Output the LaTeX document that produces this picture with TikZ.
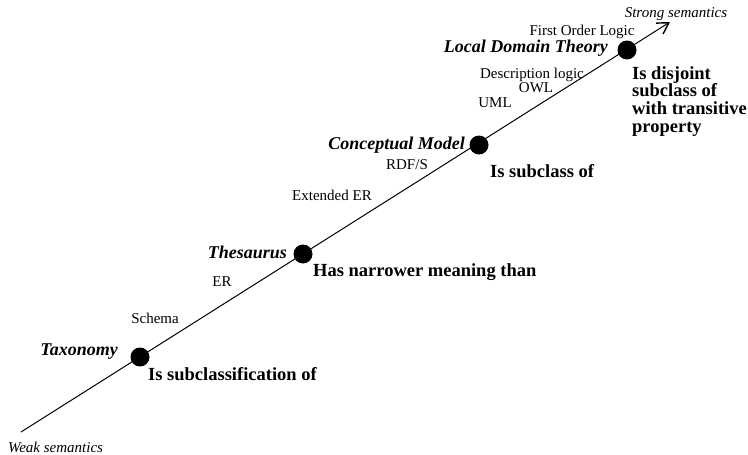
\documentclass[tikz,border=0pt]{standalone}
\usepackage{fontspec}
\setmainfont{Liberation Serif}
\usetikzlibrary{arrows.meta}
\begin{document}
\begin{tikzpicture}[x=1pt,y=-1pt,
  dot/.style={circle,fill=black,inner sep=0pt,minimum size=19pt},
  tech/.style={font=\fontsize{15}{17}\selectfont,inner sep=0pt},
  level/.style={font=\fontsize{18}{20}\selectfont\bfseries\itshape,inner sep=0pt},
  relation/.style={font=\fontsize{18.5}{17.7}\selectfont\bfseries,inner sep=0pt},
  pole/.style={font=\fontsize{15}{17}\selectfont\itshape,inner sep=0pt}]
\useasboundingbox (0,0) rectangle (748,455);

% semantic axis
\coordinate (weak) at (21,432);
\coordinate (strong) at (670,22);
\draw[line width=1pt,-{Straight Barb[length=11pt,width=13pt,line width=1.4pt]}] (weak) -- (strong);

% levels on the axis
\node[dot] (tax) at (140,357) {};
\node[dot] (the) at (303,254) {};
\node[dot] (con) at (479,145) {};
\node[dot] (ldt) at (627,50) {};

% axis ends
\node[pole,anchor=west] (weaklbl) at (8,447) {Weak semantics};
\node[pole] (stronglbl) at (676,14) {Strong semantics};

% level names
\node[level,anchor=east] (taxlbl) at (118,352) {Taxonomy};
\node[level,anchor=east] (thelbl) at (287,252) {Thesaurus};
\node[level,anchor=east] (conlbl) at (465,145) {Conceptual Model};
\node[level,anchor=east] (ldtlbl) at (608,48) {Local Domain Theory};

% representation languages
\node[tech] (schema) at (155,318) {Schema};
\node[tech] (er) at (222,282) {ER};
\node[tech] (eer) at (332,195) {Extended ER};
\node[tech] (rdfs) at (407,165) {RDF/S};
\node[tech] (uml) at (495,103) {UML};
\node[tech] (owl) at (536,88) {OWL};
\node[tech] (dl) at (532,75) {Description logic};
\node[tech] (fol) at (582,32) {First Order Logic};

% relations
\node[relation,anchor=west] (r1) at (148,374) {Is subclassification of};
\node[relation,anchor=west] (r2) at (313,272) {Has narrower meaning than};
\node[relation,anchor=west] (r3) at (490,171) {Is subclass of};
\node[relation,anchor=north west,align=left] (r4) at (632,66)
  {Is disjoint\\subclass of\\with transitive\\property};
\end{tikzpicture}
\end{document}
